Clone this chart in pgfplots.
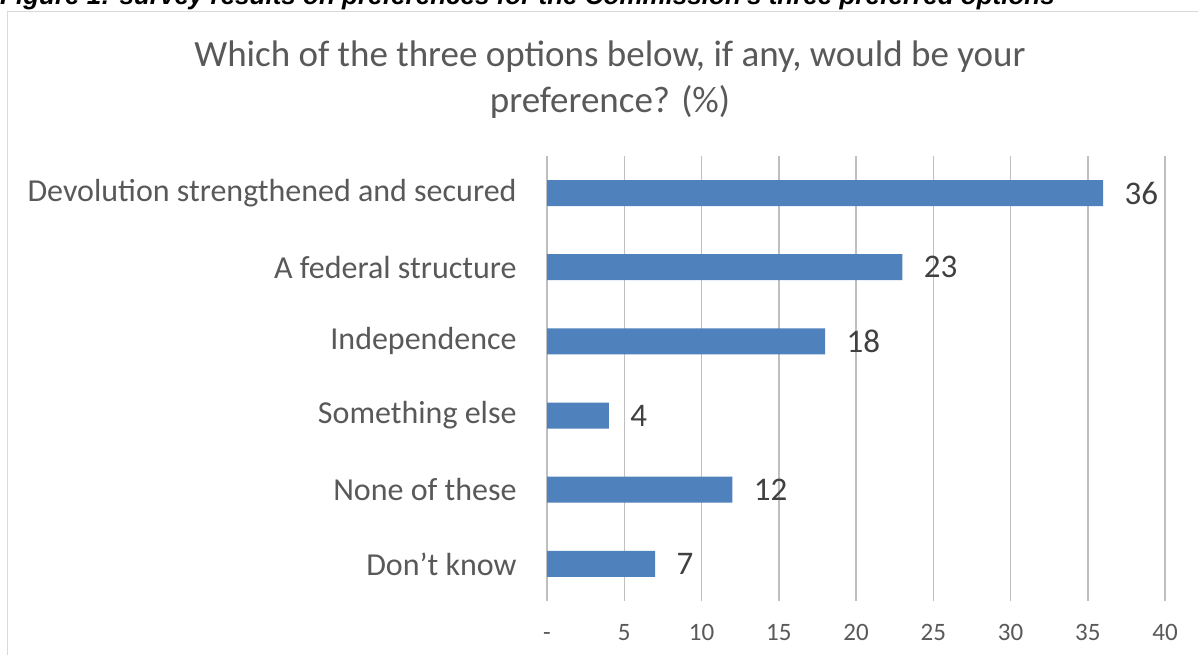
\documentclass[border=0pt]{standalone}
\usepackage{pgfplots}
\pgfplotsset{compat=1.18}
\usepackage{fontspec}
\setmainfont{Carlito}
\newfontfamily\capfont{Liberation Sans}
\definecolor{barblue}{HTML}{4F81BD}
\definecolor{txt}{HTML}{595959}
\definecolor{dtxt}{HTML}{404040}
\definecolor{grid}{HTML}{D9D9D9}
\begin{document}
\begin{tikzpicture}[x=1bp,y=1bp]
\clip (0,0) rectangle (1198,655);
\fill[white] (0,0) rectangle (1198,655);
% caption, cut off at the top
\node[anchor=base west, inner sep=0pt] at (0,650.5) {\capfont\bfseries\itshape\fontsize{26bp}{30bp}\selectfont Figure 1: survey results on preferences for the Commission's three preferred options};
% chart frame
\draw[grid, line width=1.2bp, fill=white] (7.5,-20) rectangle (1230,643.3);
% title
\node[anchor=base, inner sep=0pt, text=txt] at (610,588) {\fontsize{37bp}{44bp}\selectfont Which of the three options below, if any, would be your};
\node[anchor=base, inner sep=0pt, text=txt] at (610,542) {\fontsize{37bp}{44bp}\selectfont preference? (\%)};
\begin{axis}[
  at={(547bp,54bp)}, anchor=south west,
  scale only axis, width=618bp, height=445bp,
  xbar, bar width=26bp,
  xmin=0, xmax=40, ymin=-0.5, ymax=5.5,
  xtick={0,5,...,40},
  xticklabels={-,5,10,15,20,25,30,35,40},
  ytick={0,1,2,3,4,5},
  yticklabels={Don’t know,None of these,Something else,Independence,A federal structure,Devolution strengthened and secured},
  axis line style={draw=none},
  major tick style={draw=none},
  xmajorgrids, major grid style={grid, line width=1.5bp},
  ymajorgrids=false,
  /pgf/number format/assume math mode=true,
  xticklabel style={text=txt, font=\fontsize{25bp}{30bp}\selectfont, anchor=base, yshift=-40bp},
  yticklabel style={text=txt, font=\fontsize{32bp}{38bp}\selectfont, anchor=east, inner sep=0pt, xshift=-26bp},
  nodes near coords,
  every node near coord/.append style={text=dtxt, font=\fontsize{33bp}{40bp}\selectfont, anchor=west, xshift=18bp},
  point meta=x,
  clip=false,
]
\addplot[fill=barblue, draw=none] coordinates {(7,0) (12,1) (4,2) (18,3) (23,4) (36,5)};
\end{axis}
\end{tikzpicture}
\end{document}
